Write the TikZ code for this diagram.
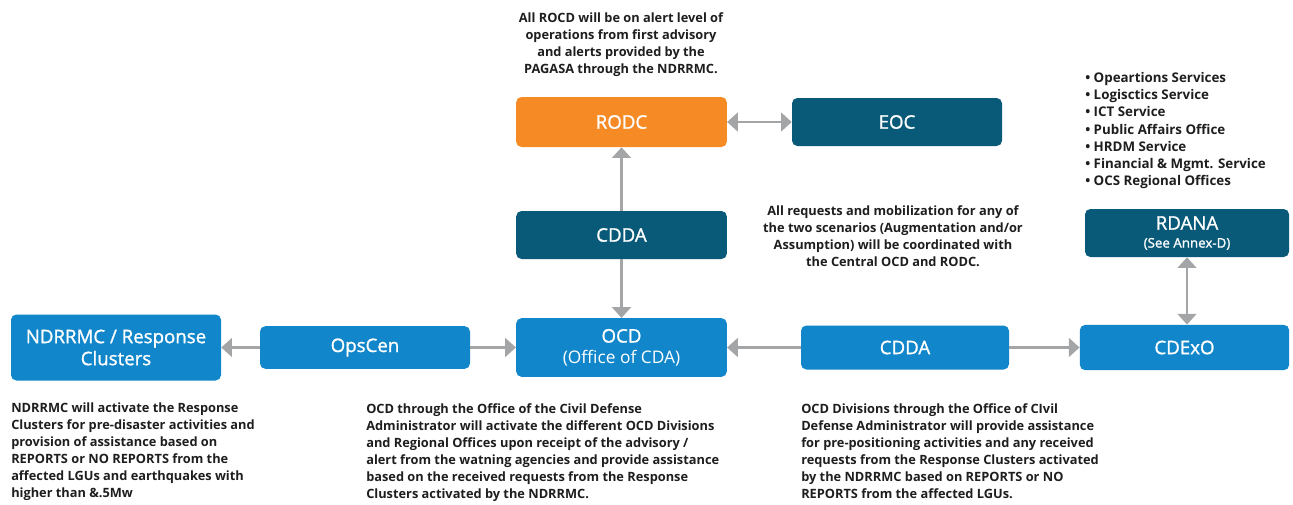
\documentclass[tikz,border=0pt]{standalone}
\usepackage{fontspec}
\setmainfont{Open Sans}
\newfontfamily\boxfont{Open Sans}[FakeBold=1.2]
\usepackage{xcolor}
\usetikzlibrary{arrows.meta, positioning}
\definecolor{rodcorange}{HTML}{F68B26}
\definecolor{darkteal}{HTML}{085A78}
\definecolor{ocdblue}{HTML}{1186CA}
\definecolor{arrowgray}{HTML}{A3A5A7}
\definecolor{notetext}{HTML}{1E1E1E}
\tikzset{
  box/.style={rectangle, rounded corners=4pt, text=white, align=center,
              inner sep=0pt, minimum width=158pt, minimum height=36pt,
              font=\boxfont\fontsize{14}{16.5}\selectfont},
  orangebox/.style={box, fill=rodcorange},
  darkbox/.style={box, fill=darkteal},
  bluebox/.style={box, fill=ocdblue},
  note/.style={align=center, inner sep=0pt, text=notetext,
               font=\bfseries\fontsize{9.6}{12.75}\selectfont},
  leftnote/.style={note, align=left, anchor=north west},
  arrow/.style={-{Triangle[width=14pt,length=8pt]}, line width=1.8pt, draw=arrowgray},
  dblarrow/.style={arrow, {Triangle[width=14pt,length=8pt]}-{Triangle[width=14pt,length=8pt]}}
}
\begin{document}
\begin{tikzpicture}[x=0.75pt, y=-0.75pt]
  \useasboundingbox (0,0) rectangle (1293,504);

  % top row
  \node[orangebox, minimum height=37.5pt] (rodc) at (621.5,122) {RODC};
  \node[darkbox, minimum width=157.5pt] (eoc) at (897,122) {EOC};
  \node[darkbox] (cdda) at (621.5,235) {CDDA};

  % main row
  \node[bluebox, minimum height=44pt] (ocd) at (621.5,347.5)
    {OCD\\[-1pt]{\normalfont\fontsize{13}{14}\selectfont(Office of CDA)}};
  \node[bluebox, minimum width=157.5pt, minimum height=49.5pt] (ndrrmc) at (116,347.5)
    {NDRRMC / Response\\Clusters};
  \node[bluebox, minimum width=157.5pt, minimum height=32pt] (opscen) at (365,347.5) {OpsCen};
  \node[bluebox, minimum width=156pt, minimum height=33pt] (cddaright) at (905,347.5) {CDDA};
  \node[bluebox, minimum width=157pt, minimum height=34pt] (cdexo) at (1184.5,347.5) {CDExO};
  \node[darkbox, minimum width=153pt] (rdana) at (1187,233)
    {RDANA\\[-3pt]{\fontsize{10}{11}\selectfont(See Annex-D)}};

  % notes
  \node[note] (alertnote) at (621,45) {All ROCD will be on alert level of\\
    operations from first advisory\\and alerts provided by the\\PAGASA through the NDRRMC.};
  \node[note] (requestnote) at (893,236) {All requests and mobilization for any of\\
    the two scenarios (Augmentation and/or\\Assumption) will be coordinated with\\
    the Central OCD and RODC.};
  \node[leftnote, font=\bfseries\fontsize{10}{12.9}\selectfont] (services) at (1085,72)
    {• Opeartions Services\\• Logisctics Service\\
    • ICT Service\\• Public Affairs Office\\• HRDM Service\\
    • Financial \& Mgmt. Service\\• OCS Regional Offices};
  \node[leftnote] (ndrrmcnote) at (11,403) {NDRRMC will activate the Response\\
    Clusters for pre-disaster activities and\\provision of assistance based on\\
    REPORTS or NO REPORTS from the\\affected LGUs and earthquakes with\\higher than \&.5Mw};
  \node[leftnote] (ocdnote) at (366,403) {OCD through the Office of the Civil Defense\\
    Administrator will activate the different OCD Divisions\\
    and Regional Offices upon receipt of the advisory /\\
    alert from the watning agencies and provide assistance\\
    based on the received requests from the Response\\Clusters activated by the NDRRMC.};
  \node[leftnote] (divisionnote) at (801,403) {OCD Divisions through the Office of CIvil\\
    Defense Administrator will provide assistance\\for pre-positioning activities and any received\\
    requests from the Response Clusters activated\\by the NDRRMC based on REPORTS or NO\\
    REPORTS from the affected LGUs.};

  % connectors
  \draw[dblarrow] (rodc) -- (eoc);
  \draw[arrow] (cdda) -- (rodc);
  \draw[arrow] (cdda) -- (ocd);
  \draw[arrow] (opscen) -- (ndrrmc);
  \draw[arrow] (opscen) -- (ocd);
  \draw[arrow] (cddaright) -- (ocd);
  \draw[arrow] (cddaright) -- (cdexo);
  \draw[dblarrow] (rdana) -- (rdana |- cdexo.north);
\end{tikzpicture}
\end{document}
